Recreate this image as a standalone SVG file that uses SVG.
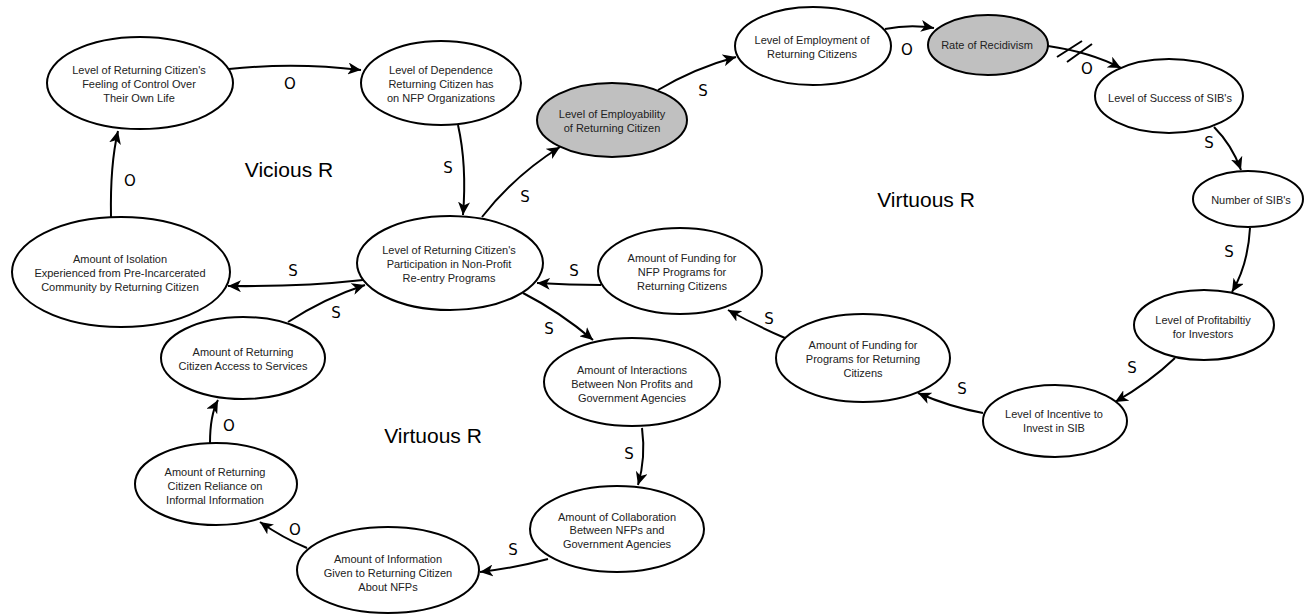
<svg xmlns="http://www.w3.org/2000/svg" width="1308" height="615" viewBox="0 0 1308 615">
<defs>
<marker id="arr" markerUnits="userSpaceOnUse" markerWidth="14" markerHeight="12" refX="13" refY="6" orient="auto">
<path d="M0,0 L13,6 L0,12 L3.5,6 z" fill="#000"/>
</marker>
<style>
.node ellipse{fill:#fff;stroke:#000;stroke-width:2}
.node.gray ellipse{fill:#c0c0c0}
.node text{font-family:"Liberation Sans",Arial,sans-serif;font-size:11px;fill:#222;text-anchor:middle}
.edges path{fill:none;stroke:#000;stroke-width:2;marker-end:url(#arr)}
.edges path.hash{marker-end:none}
.pol{font-family:"DejaVu Sans",Verdana,sans-serif;font-size:15px;fill:#000;text-anchor:middle}
.loop{font-family:"Liberation Sans",Arial,sans-serif;font-size:21px;fill:#000;text-anchor:middle}
</style>
</defs>
<rect width="1308" height="615" fill="#fff"/>

<g id="connectors" class="edges">
<path d="M229,69 Q295,62 361,70"/>
<path d="M458,125 Q467,165 463,215"/>
<path d="M111,217 Q110,165 118,131"/>
<path d="M363,280 Q300,287 228,286"/>
<path d="M288,322 Q325,298 365,285"/>
<path d="M210,443 Q210,415 218,400"/>
<path d="M307,548 Q283,538 260,522"/>
<path d="M548,559 Q515,568 480,572"/>
<path d="M642,428 Q646,458 638,485"/>
<path d="M523,293 Q560,312 593,340"/>
<path d="M601,285 Q570,285 537,283"/>
<path d="M785,338 Q755,325 728,310"/>
<path d="M983,413 Q950,407 918,393"/>
<path d="M1175,358 Q1150,382 1115,402"/>
<path d="M1250,228 Q1248,265 1232,292"/>
<path d="M1214,127 Q1232,145 1241,170"/>
<path d="M1048,46 Q1090,52 1121,68"/>
<path class="hash" d="M1057,57 L1082,41 M1067,62 L1092,44"/>
<path d="M885,29 Q910,24 934,28"/>
<path d="M658,90 Q695,68 736,57"/>
<path d="M482,217 Q515,175 560,147"/>
</g>

<g id="polarity">
<text class="pol" x="290" y="89">O</text>
<text class="pol" x="448" y="173">S</text>
<text class="pol" x="130" y="186">O</text>
<text class="pol" x="293" y="276">S</text>
<text class="pol" x="336" y="318">S</text>
<text class="pol" x="229" y="431">O</text>
<text class="pol" x="295" y="535">O</text>
<text class="pol" x="513" y="555">S</text>
<text class="pol" x="629" y="459">S</text>
<text class="pol" x="549" y="334">S</text>
<text class="pol" x="574" y="276">S</text>
<text class="pol" x="769" y="324">S</text>
<text class="pol" x="962" y="394">S</text>
<text class="pol" x="1132" y="373">S</text>
<text class="pol" x="1229" y="257">S</text>
<text class="pol" x="1209" y="148">S</text>
<text class="pol" x="1087" y="74">O</text>
<text class="pol" x="907" y="55">O</text>
<text class="pol" x="703" y="96">S</text>
<text class="pol" x="525" y="202">S</text>
</g>

<g id="loops">
<text class="loop" x="289" y="177">Vicious R</text>
<text class="loop" x="926" y="207">Virtuous R</text>
<text class="loop" x="433" y="443">Virtuous R</text>
</g>

<g id="n-feeling" class="node"><ellipse cx="140" cy="83" rx="93" ry="46"/>
<text x="139" y="74">Level of Returning Citizen's</text><text x="139" y="88">Feeling of Control Over</text><text x="139" y="102">Their Own Life</text></g>

<g id="n-dependence" class="node"><ellipse cx="441" cy="83" rx="80" ry="42"/>
<text x="441" y="74">Level of Dependence</text><text x="441" y="88">Returning Citizen has</text><text x="441" y="102">on NFP Organizations</text></g>

<g id="n-participation" class="node"><ellipse cx="450" cy="263" rx="93" ry="47"/>
<text x="449" y="254">Level of Returning Citizen's</text><text x="449" y="268">Participation in Non-Profit</text><text x="449" y="282">Re-entry Programs</text></g>

<g id="n-employability" class="node gray"><ellipse cx="612" cy="120" rx="75" ry="37"/>
<text x="612" y="118">Level of Employability</text><text x="612" y="132">of Returning Citizen</text></g>

<g id="n-employment" class="node"><ellipse cx="813" cy="46" rx="78" ry="39"/>
<text x="812" y="44">Level of Employment of</text><text x="812" y="58">Returning Citizens</text></g>

<g id="n-recidivism" class="node gray"><ellipse cx="988" cy="45" rx="60" ry="30"/>
<text x="987" y="49">Rate of Recidivism</text></g>

<g id="n-success" class="node"><ellipse cx="1169" cy="96" rx="74" ry="37"/>
<text x="1170" y="102">Level of Success of SIB's</text></g>

<g id="n-number" class="node"><ellipse cx="1248" cy="199" rx="55" ry="28"/>
<text x="1251" y="204">Number of SIB's</text></g>

<g id="n-profitability" class="node"><ellipse cx="1204" cy="325" rx="70" ry="35"/>
<text x="1203" y="324">Level of Profitabiltiy</text><text x="1203" y="338">for Investors</text></g>

<g id="n-incentive" class="node"><ellipse cx="1055" cy="421" rx="72" ry="36"/>
<text x="1054" y="418">Level of Incentive to</text><text x="1054" y="432">Invest in SIB</text></g>

<g id="n-fundprog" class="node"><ellipse cx="863" cy="358" rx="87" ry="44"/>
<text x="863" y="349">Amount of Funding for</text><text x="863" y="363">Programs for Returning</text><text x="863" y="377">Citizens</text></g>

<g id="n-fundnfp" class="node"><ellipse cx="680" cy="271" rx="82" ry="43"/>
<text x="682" y="262">Amount of Funding for</text><text x="682" y="276">NFP Programs for</text><text x="682" y="290">Returning Citizens</text></g>

<g id="n-interactions" class="node"><ellipse cx="632" cy="382" rx="88" ry="44"/>
<text x="632" y="374">Amount of Interactions</text><text x="632" y="388">Between Non Profits and</text><text x="632" y="402">Government Agencies</text></g>

<g id="n-collaboration" class="node"><ellipse cx="617" cy="529" rx="87" ry="43"/>
<text x="617" y="521">Amount of Collaboration</text><text x="617" y="534">Between NFPs and</text><text x="617" y="548">Government Agencies</text></g>

<g id="n-information" class="node"><ellipse cx="388" cy="570" rx="91" ry="43"/>
<text x="388" y="563">Amount of Information</text><text x="388" y="577">Given to Returning Citizen</text><text x="388" y="591">About NFPs</text></g>

<g id="n-reliance" class="node"><ellipse cx="216" cy="484" rx="81" ry="41"/>
<text x="215" y="476">Amount of Returning</text><text x="215" y="490">Citizen Reliance on</text><text x="215" y="504">Informal Information</text></g>

<g id="n-access" class="node"><ellipse cx="243" cy="358" rx="82" ry="41"/>
<text x="243" y="356">Amount of Returning</text><text x="243" y="370">Citizen Access to Services</text></g>

<g id="n-isolation" class="node"><ellipse cx="121" cy="272" rx="109" ry="55"/>
<text x="120" y="263">Amount of Isolation</text><text x="120" y="277">Experienced from Pre-Incarcerated</text><text x="120" y="291">Community by Returning Citizen</text></g>
</svg>
